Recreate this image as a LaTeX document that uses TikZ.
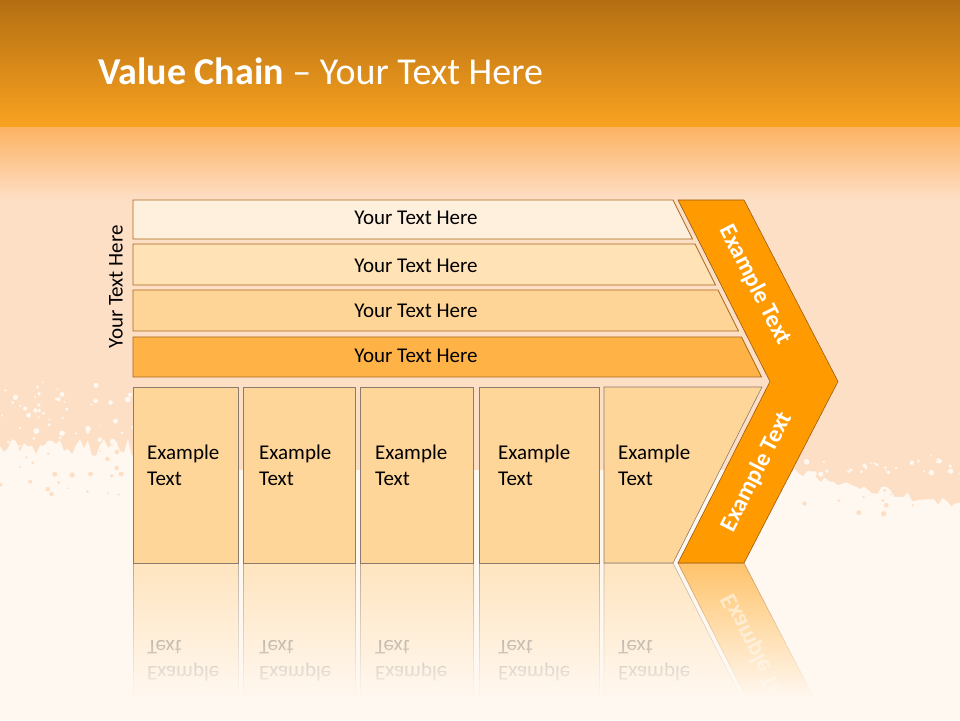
\documentclass[tikz,border=0pt]{standalone}
\usepackage{fontspec}
\setmainfont{Carlito}
\usetikzlibrary{fadings}
\definecolor{topdark}{HTML}{B46E12}
\definecolor{toporange}{HTML}{F9A320}
\definecolor{topfade}{HTML}{FCB363}
\definecolor{peach}{HTML}{FDDFC6}
\definecolor{cream}{HTML}{FFF8F0}
\definecolor{barA}{HTML}{FFF0DE}
\definecolor{barB}{HTML}{FFE2B6}
\definecolor{barC}{HTML}{FFD597}
\definecolor{barD}{HTML}{FFB347}
\definecolor{barline}{HTML}{A8671C}
\definecolor{cellfill}{HTML}{FFD699}
\definecolor{cellline}{HTML}{8A7B6C}
\definecolor{chevfill}{HTML}{FF9A00}
\definecolor{chevline}{HTML}{9A5A10}

\begin{document}
\begin{tikzpicture}[x=1pt, y=1pt,
    bar/.style={draw=barline, line width=0.8pt},
    cell/.style={draw=cellline, fill=cellfill, line width=0.6pt},
    chev/.style={draw=chevline, fill=chevfill, line width=0.6pt},
    bartext/.style={font=\fontsize{21}{25}\selectfont, text=black},
    celltext/.style={anchor=west, align=left, inner sep=0pt,
                     font=\fontsize{21}{26}\selectfont, text=black},
    chevtext/.style={font=\fontsize{24}{28}\selectfont\bfseries, text=white}
]
\useasboundingbox (0,0) rectangle (960,720);
\clip (0,0) rectangle (960,720);
% Background: orange band, peach field, cream splatter
\fill[peach] (0,0) rectangle (960,521);
\shade[top color=topdark, bottom color=toporange] (0,592) rectangle (960,720);
\shade[top color=topfade, bottom color=peach] (0,520) rectangle (960,592.5);
\pgfmathsetseed{7}
\fill[cream] (0,0) -- plot[domain=0:140, samples=36] (\x,{272+9*rand})
  -- (140,250) -- (790,250)
  -- plot[domain=790:960, samples=40] (\x,{248-0.2*(\x-790)+5*rand})
  -- (960,0) -- cycle;
\foreach \k in {1,...,70}
  \fill[cream] ({140*rnd},{262+80*rnd^1.5}) circle ({0.8+2.2*rnd});
\foreach \k in {1,...,30}
  \fill[cream] ({790+170*rnd},{245+22*rnd}) circle ({0.8+2*rnd});
\foreach \k in {1,...,25}
  \fill[peach] ({140*rnd},{225+45*rnd}) circle ({0.8+2*rnd});
\foreach \k in {1,...,12}
  \fill[peach] ({800+160*rnd},{205+25*rnd}) circle ({0.8+2*rnd});

% Title
\node[anchor=base west, inner sep=0pt, text=white,
      font=\fontsize{38}{42}\selectfont] (title) at (98,635)
  {\textbf{Value Chain} -- Your Text Here};

% Reflection of the lower row
\begin{scope}[yshift=314pt, yscale=-1, opacity=0.55]
  \clip (100,157) rectangle (880,290);
  \foreach \l/\r/\tx [count=\i] in {133/238/147, 243/355/259, 360/473/375, 479/599/498} {
    \draw[cell] (\l,157) rectangle (\r,333);
    \node[celltext, transform shape] (mirror\i) at (\tx,255) {Example\\Text};
  }
  \draw[cell] (604,157) -- (604,333) -- (762,333) -- (673,157) -- cycle;
  \node[celltext, transform shape] (mirror5) at (618,255) {Example\\Text};
  \draw[chev] (678,157) -- (744,157) -- (838,338.5) -- (770,338.5) -- cycle;
  \node[chevtext, transform shape, rotate=63] (mirrorarm) at (757,248) {Example Text};
\end{scope}
\fill[cream, path fading=north] (100,23) rectangle (880,156);

% Bars
\foreach \t/\b/\c/\ty [count=\i] in {520/481/barA/502, 476/435/barB/454,
    430/389/barC/409, 383/343/barD/364} {
  \draw[bar, fill=\c] (133,\t) -- ({933-0.5*\t},\t) -- ({933-0.5*\b},\b) -- (133,\b) -- cycle;
  \node[bartext] (bar\i) at (416,\ty) {Your Text Here};
}
\node[bartext, rotate=90] (sidelabel) at (116,433) {Your Text Here};

% Lower row
\foreach \l/\r/\tx [count=\i] in {133/238/147, 243/355/259, 360/473/375, 479/599/498} {
  \draw[cell] (\l,157) rectangle (\r,333);
  \node[celltext] (cell\i) at (\tx,255) {Example\\Text};
}
\draw[cell] (604,157) -- (604,333) -- (762,333) -- (673,157) -- cycle;
\node[celltext] (cell5) at (618,255) {Example\\Text};

% Chevron
\draw[chev] (678,520) -- (744,520) -- (838,338.5) -- (744,157) -- (678,157)
  -- (770,338.5) -- cycle;
\node[chevtext, rotate=-63] (armtop) at (755,435) {Example Text};
\node[chevtext, rotate=63] (armbot) at (757,248) {Example Text};
\end{tikzpicture}
\end{document}
